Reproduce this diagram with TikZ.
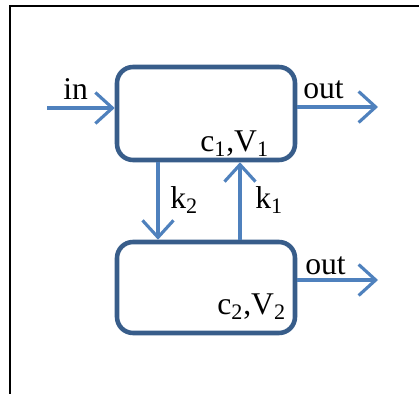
\documentclass[tikz,border=0pt]{standalone}
\usepackage{fontspec}
\setmainfont{Liberation Serif}
\usepackage{pgf,tikz}
\usetikzlibrary{arrows.meta,positioning,calc}

\definecolor{tankline}{RGB}{56,93,138}
\definecolor{flowline}{RGB}{79,129,189}

\begin{document}
\begin{tikzpicture}[x=0.02cm,y=-0.02cm,
    font=\fontsize{18}{21}\selectfont,
    tank/.style={shape=rectangle,draw=tankline,line width=2.6pt,rounded corners=0.32cm,
        minimum width=3.56cm,inner sep=0pt},
    flow/.style={draw=flowline,line width=1.8pt,
        -{Straight Barb[length=3.4mm,width=6.2mm]}},
    lbl/.style={anchor=base west,inner sep=0pt}]
    \useasboundingbox (0,0) rectangle (419,394);
    % frame
    \draw[line width=1.1pt] (10,394) -- (10,6) -- (419,6);
    % the two compartments
    \node[tank,minimum height=1.86cm] (T1) at (206,113.5) {};
    \node[tank,minimum height=1.82cm] (T2) at (206,287.5) {};
    % free ends of the flows
    \coordinate (in) at (47,108);
    \coordinate (out1) at (378,107);
    \coordinate (out2) at (378,280);
    \coordinate (kd) at (158,200);
    \coordinate (ku) at (240,200);
    \draw [flow](in) -- (T1.west |- in);
    \draw [flow](T1.east |- out1) -- (out1);
    \draw [flow](T2.east |- out2) -- (out2);
    \draw [flow](T1.south -| kd) -- (T2.north -| kd);
    \draw [flow](T2.north -| ku) -- (T1.south -| ku);
    % labels
    \node[lbl] (lin) at (63,100) {in};
    \node[lbl] (lout1) at (303,99) {out};
    \node[lbl] (lout2) at (305,275) {out};
    \node[lbl] (lk2) at (170,209) {k\textsubscript{2}};
    \node[lbl] (lk1) at (255,209) {k\textsubscript{1}};
    \node[lbl] (lc1) at (200,152) {c\textsubscript{1},V\textsubscript{1}};
    \node[lbl] (lc2) at (217,315) {c\textsubscript{2},V\textsubscript{2}};
\end{tikzpicture}
\end{document}
